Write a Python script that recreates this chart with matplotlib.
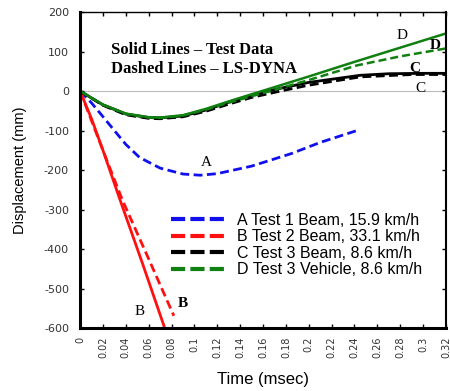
import matplotlib.pyplot as plt

# curve A - test 1 beam (LS-DYNA, dashed blue)
a_t = [0, 0.01, 0.0175, 0.03, 0.04, 0.052, 0.07, 0.09, 0.105, 0.12, 0.15, 0.185, 0.21, 0.242]
a_d = [0, -30, -56, -100, -135, -168, -195, -210, -213, -209, -190, -158, -130, -100]

# curve B - test 2 beam
b_test_t = [0, 0.01, 0.02, 0.035, 0.055, 0.074]
b_test_d = [0, -70, -150, -276, -440, -600]
b_dyna_t = [0, 0.01, 0.02, 0.037, 0.06, 0.082]
b_dyna_d = [0, -75, -150, -276, -425, -569]

# curve C - test 3 beam
c_test_t = [0, 0.02, 0.04, 0.06, 0.07, 0.09, 0.11, 0.13, 0.15, 0.175, 0.2, 0.245, 0.27, 0.3, 0.32]
c_test_d = [0, -35, -58, -67, -68, -63, -48, -28, -10, 7, 22, 40, 44, 45, 45]
c_dyna_t = [0, 0.02, 0.04, 0.06, 0.07, 0.09, 0.11, 0.13, 0.15, 0.175, 0.2, 0.245, 0.29, 0.32]
c_dyna_d = [0, -36, -60, -69, -70, -65, -51, -33, -16, 0, 15, 36, 42, 42]

# curve D - test 3 vehicle
d_test_t = [0, 0.02, 0.04, 0.06, 0.07, 0.09, 0.11, 0.128, 0.16, 0.2, 0.24, 0.28, 0.32]
d_test_d = [0, -34, -57, -66, -67, -61, -45, -28, 1, 37, 74, 110, 146]
d_dyna_t = [0, 0.02, 0.04, 0.06, 0.07, 0.09, 0.11, 0.128, 0.16, 0.2, 0.242, 0.28, 0.32]
d_dyna_d = [0, -35, -58, -67, -68, -62, -47, -31, -5, 28, 65, 88, 108]

legend_labels = ['A Test 1 Beam, 15.9 km/h', 'B Test 2 Beam, 33.1 km/h',
                 'C Test 3 Beam, 8.6 km/h', 'D Test 3 Vehicle, 8.6 km/h']

fig = plt.figure(figsize=(4.5, 3.91), dpi=100)
ax = fig.add_axes([0.178, 0.161, 0.813, 0.808])

ax.axhline(0, color='#bbbbbb', lw=0.8, zorder=0)

dash = (3.2, 1.6)
la, = ax.plot(a_t, a_d, color='#1010ee', lw=2, dashes=dash)
ax.plot(b_test_t, b_test_d, color='#ff1010', lw=2)
lb, = ax.plot(b_dyna_t, b_dyna_d, color='#ff1010', lw=2, dashes=dash)
ax.plot(c_test_t, c_test_d, color='black', lw=2)
lc, = ax.plot(c_dyna_t, c_dyna_d, color='black', lw=2, dashes=dash)
ax.plot(d_test_t, d_test_d, color='#108010', lw=1.8)
ld, = ax.plot(d_dyna_t, d_dyna_d, color='#108010', lw=1.8, dashes=dash)

ax.set_xlim(0, 0.32)
ax.set_ylim(-600, 200)
ax.set_xticks([round(0.02 * i, 2) for i in range(17)])
ax.set_xticklabels(['0' if i == 0 else ('%g' % round(0.02 * i, 2)) for i in range(17)],
                   rotation=90, fontsize=7, color='#333333')
ax.set_yticks(range(-600, 201, 100))
ax.set_yticklabels([str(v) for v in range(-600, 201, 100)], fontsize=8, color='#333333')
ax.tick_params(direction='in', top=True, right=True, length=3, width=1)
ax.tick_params(axis='y', pad=8)
ax.tick_params(axis='x', pad=6)
ax.spines['left'].set_linewidth(2.2)
ax.spines['bottom'].set_linewidth(2.2)
ax.spines['top'].set_linewidth(1)
ax.spines['right'].set_linewidth(1.5)

ax.set_xlabel('Time (msec)', fontsize=12, family='Liberation Sans', labelpad=10)
ax.set_ylabel('Displacement (mm)', fontsize=10.5, family='Liberation Sans', labelpad=12)

serif = 'Liberation Serif'
ax.text(0.027, 105, 'Solid Lines \u2013 Test Data', fontsize=12, weight='bold', family=serif, va='center')
ax.text(0.027, 57, 'Dashed Lines \u2013 LS-DYNA', fontsize=12, weight='bold', family=serif, va='center')
ax.text(0.11, -181, 'A', fontsize=11, family=serif, ha='center', va='center')
ax.text(0.052, -557, 'B', fontsize=11, family=serif, ha='center', va='center')
ax.text(0.09, -537, 'B', fontsize=11, weight='bold', family=serif, ha='center', va='center')
ax.text(0.293, 57, 'C', fontsize=11, weight='bold', family=serif, ha='center', va='center')
ax.text(0.298, 7, 'C', fontsize=11, family=serif, ha='center', va='center')
ax.text(0.282, 141, 'D', fontsize=11, family=serif, ha='center', va='center')
ax.text(0.311, 115, 'D', fontsize=11, weight='bold', family=serif, ha='center', va='center')

leg = ax.legend([la, lb, lc, ld], legend_labels, loc='center left',
                bbox_to_anchor=(0.209, 0.263), frameon=False, handlelength=3.4,
                handletextpad=0.75, labelspacing=0.1, borderpad=0.4,
                prop={'family': 'Liberation Sans', 'size': 11.5})
for h in leg.legend_handles:
    h.set_linewidth(3)
    h.set_dashes((3.4, 1.25))

fig.savefig('out.png', dpi=100)
